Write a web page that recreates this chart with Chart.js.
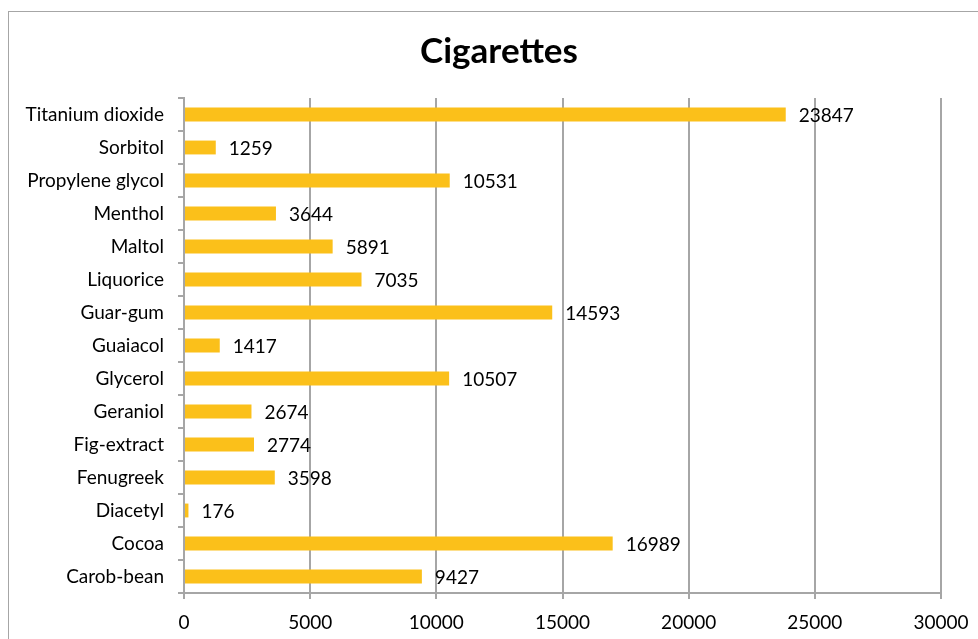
<!DOCTYPE html>
<html>
<head>
<meta charset="utf-8">
<script src="https://cdn.jsdelivr.net/npm/chart.js@4"></script>
<style>
  body { margin: 0; background: #fff; }
  #frame {
    position: absolute; left: 8px; top: 11px;
    width: 969px; height: 627px;
    border-left: 1px solid #a6a6a6; border-top: 1px solid #a6a6a6;
  }
</style>
</head>
<body>
<div id="frame"><canvas id="cigChart" width="969" height="627"></canvas></div>
<script>
// categories listed top to bottom, as in the picture
const categories = ["Titanium dioxide", "Sorbitol", "Propylene glycol", "Menthol", "Maltol",
  "Liquorice", "Guar-gum", "Guaiacol", "Glycerol", "Geraniol", "Fig-extract", "Fenugreek",
  "Diacetyl", "Cocoa", "Carob-bean"];
const amounts = [23847, 1259, 10531, 3644, 5891, 7035, 14593, 1417, 10507, 2674, 2774, 3598,
  176, 16989, 9427];
const xTicks = [0, 5000, 10000, 15000, 20000, 25000, 30000];

const fontFamily = "Lato, 'Open Sans', sans-serif";
const labelSize = 19;

// draw the value next to each bar end
const valueLabels = {
  id: "valueLabels",
  afterDatasetsDraw(chart) {
    const ctx = chart.ctx;
    const meta = chart.getDatasetMeta(0);
    ctx.save();
    ctx.font = labelSize + "px " + fontFamily;
    ctx.fillStyle = "#000";
    ctx.textAlign = "left";
    ctx.textBaseline = "middle";
    meta.data.forEach((bar, i) => {
      ctx.fillText(String(amounts[i]), bar.x + 13, bar.y + 1);
    });
    ctx.restore();
  }
};

// the title sits centred on the whole frame, not on the padded area
const shiftTitle = {
  id: "shiftTitle",
  afterLayout(chart) {
    if (chart.titleBlock) {
      chart.titleBlock.left += 24;
      chart.titleBlock.right += 24;
    }
  }
};

new Chart(document.getElementById("cigChart"), {
  type: "bar",
  data: {
    labels: categories,
    datasets: [{
      data: amounts,
      backgroundColor: "#fbc01a",
      barPercentage: 0.42,
      categoryPercentage: 1
    }]
  },
  options: {
    indexAxis: "y",
    responsive: false,
    animation: false,
    layout: { padding: { left: 0, right: 37, top: 0, bottom: 0 } },
    plugins: {
      legend: { display: false },
      tooltip: { enabled: false },
      title: {
        display: true,
        text: "Cigarettes",
        color: "#000",
        font: { family: fontFamily, size: 35, weight: "bold", lineHeight: 1.2 },
        padding: { top: 19, bottom: 25 }
      }
    },
    scales: {
      x: {
        min: 0,
        max: 30000,
        afterBuildTicks: (scale) => { scale.ticks = xTicks.map(v => ({ value: v })); },
        afterFit: (scale) => {
          scale.height = 46;
          scale.paddingLeft = 0;
          scale.paddingRight = 0;
        },
        grid: { color: "#a6a6a6", lineWidth: 2, tickLength: 6 },
        border: { color: "#a6a6a6", width: 2 },
        ticks: {
          color: "#000",
          font: { family: fontFamily, size: labelSize },
          padding: 12,
          callback: (v) => String(v)
        }
      },
      y: {
        afterFit: (scale) => { scale.width = 175; },
        grid: { drawOnChartArea: false, color: "#a6a6a6", lineWidth: 2, tickLength: 6 },
        border: { color: "#a6a6a6", width: 2 },
        ticks: { color: "#000", font: { family: fontFamily, size: labelSize }, padding: 14 }
      }
    }
  },
  plugins: [valueLabels, shiftTitle]
});
</script>
</body>
</html>
